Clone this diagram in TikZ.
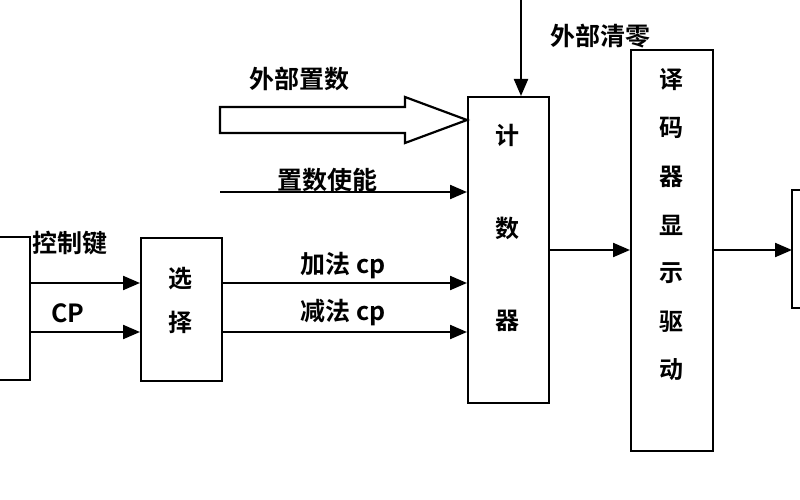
\documentclass[tikz,border=0pt]{standalone}
\usepackage{fontspec}
\setmainfont{Noto Sans CJK SC}[BoldFont={Noto Sans CJK SC Bold}]
\usetikzlibrary{arrows.meta}
\begin{document}
\begin{tikzpicture}[x=1pt,y=-1pt,
  box/.style={draw,line width=2.2pt},
  sig/.style={line width=2.2pt,-{Triangle[length=17pt,width=14pt]}},
  lab/.style={font=\fontsize{25}{25}\selectfont\bfseries},
  blab/.style={font=\fontsize{24}{24}\selectfont\bfseries}]
\clip (0,0) rectangle (800,500);
% boxes
\draw[box] (-40,237) rectangle (30,380);
\coordinate (L1) at (30,283);
\coordinate (L2) at (30,332);
\node[box,minimum width=81pt,minimum height=143pt,anchor=north west] (sel) at (140,237) {};
\node[blab] at (180,279) {选};
\node[blab] at (180,322) {择};
\node[box,minimum width=81pt,minimum height=306pt,anchor=north west] (cnt) at (467,96) {};
\node[blab] at (507,135) {计};
\node[blab] at (507,228) {数};
\node[blab] at (507,321) {器};
\node[box,minimum width=82pt,minimum height=401pt,anchor=north west] (dec) at (630,49) {};
\foreach \c [count=\i from 0] in {译,码,器,显,示,驱,动}
  \node[blab] at (671,{80+\i*48.3}) {\c};
\draw[box] (792,190) rectangle (840,308);
\coordinate (R) at (792,250);
% signals left
\draw[sig] (L1) -- (sel.west |- L1);
\draw[sig] (L2) -- (sel.west |- L2);
\node[lab] at (70,243) {控制键};
\node[lab] at (68,313) {CP};
% select to counter
\draw[sig] (sel.east |- L1) -- (cnt.west |- L1);
\draw[sig] (sel.east |- L2) -- (cnt.west |- L2);
\node[lab] at (343,266) {加法 cp};
\node[lab] at (343,313) {减法 cp};
% enable
\coordinate (E) at (220,192);
\draw[sig] (E) -- (cnt.west |- E);
\node[lab] at (327,180) {置数使能};
% fat arrow
\coordinate (F) at (220,120);
\draw[line width=2.2pt,line join=miter] (F) ++(0,-13) -- (405,107) -- (405,97) -- (cnt.west |- F) -- (405,143) -- (405,133) -- (220,133) -- cycle;
\node[lab] at (299,79) {外部置数};
% clear
\coordinate (C) at (521,0);
\draw[sig] (C) -- (cnt.north -| C);
\node[lab] at (600,36) {外部清零};
% outputs
\coordinate (M) at (548,250);
\draw[sig] (M) -- (dec.west |- M);
\draw[sig] (dec.east |- M) -- (R);
\end{tikzpicture}
\end{document}
